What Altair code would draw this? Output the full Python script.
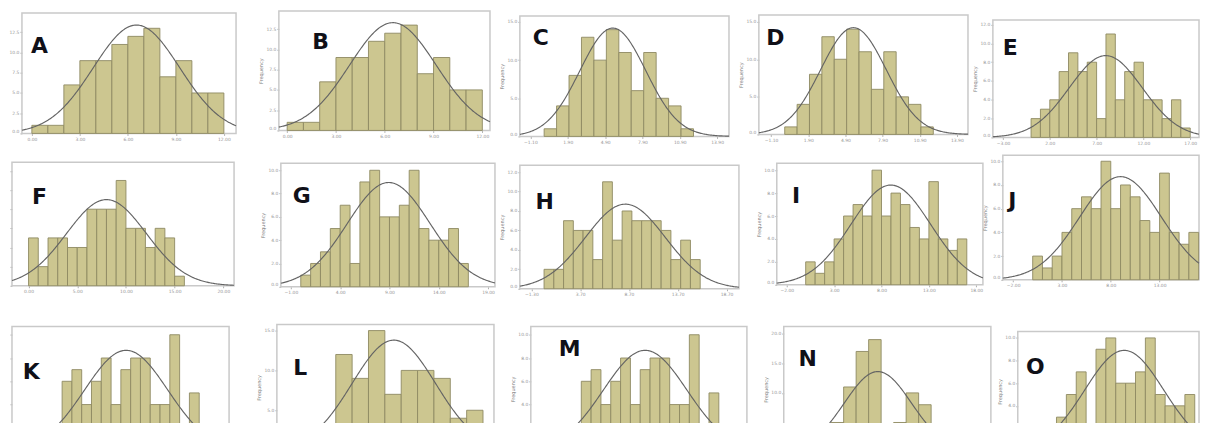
import numpy as np
import pandas as pd
import altair as alt

# ---------------- data ----------------
LETTERS = list("ABCDEFGHIJKLMNO")

COUNTS_A = [1, 1, 6, 9, 9, 11, 12, 13, 7, 9, 5, 5]
COUNTS_B = [1, 1, 6, 9, 9, 11, 12, 13, 7, 9, 5, 5]
COUNTS_C = [1, 4, 8, 13, 10, 14, 11, 6, 11, 5, 4, 1]
COUNTS_D = [1, 4, 8, 13, 10, 14, 11, 6, 11, 5, 4, 1]
COUNTS_E = [2, 3, 4, 7, 9, 7, 8, 2, 11, 4, 7, 8, 4, 4, 2, 4, 1]
COUNTS_F = [5, 2, 5, 5, 4, 4, 8, 8, 8, 11, 6, 6, 4, 6, 5, 1]
COUNTS_G = [1, 2, 3, 5, 7, 2, 9, 10, 6, 6, 7, 10, 5, 4, 4, 5, 2]
COUNTS_H = [2, 2, 7, 6, 6, 3, 11, 5, 8, 7, 7, 7, 6, 3, 5, 3]
COUNTS_I = [2, 1, 2, 4, 6, 7, 6, 10, 6, 8, 7, 5, 4, 9, 4, 3, 4]
COUNTS_J = [2, 1, 2, 4, 6, 7, 6, 10, 6, 8, 7, 5, 4, 9, 4, 3, 4]
COUNTS_K = [1, 2, 6, 7, 4, 6, 8, 4, 7, 8, 8, 4, 4, 10, 2, 5, 2, 1]
COUNTS_L = [1, 2, 12, 9, 15, 7, 10, 10, 9, 4, 5]
COUNTS_M = [1, 2, 6, 7, 4, 6, 8, 4, 7, 8, 8, 4, 4, 10, 2, 5, 2, 1]
COUNTS_N = [1, 2, 5, 11, 17, 19, 3, 5, 10, 8, 3, 1]
COUNTS_O = [1, 3, 5, 7, 2, 9, 10, 6, 6, 7, 10, 5, 4, 4, 5]

COUNTS = [COUNTS_A, COUNTS_B, COUNTS_C, COUNTS_D, COUNTS_E,
          COUNTS_F, COUNTS_G, COUNTS_H, COUNTS_I, COUNTS_J,
          COUNTS_K, COUNTS_L, COUNTS_M, COUNTS_N, COUNTS_O]

# axis ranges (in bin units) and y-axis tops
X_LO = [-0.62, -0.51, -1.95, -2.09, -4.08, -1.7, -2.02, -2.48, -3.05, -3.06,
        -3.12, -1.6, -3.14, -1.79, -2.92]
X_HI = [12.76, 12.47, 14.85, 14.8, 17.94, 21.1, 19.7, 19.97, 18.7, 17.04,
        19.05, 11.67, 18.86, 14.78, 15.43]
Y_MAX = [14.9, 14.75, 15.8, 15.9, 12.5, 12.9, 10.6, 12.7, 10.6, 10.5,
         10.7, 15.75, 10.7, 21.2, 10.56]
Y_STEP = [2.5, 2.5, 5, 5, 2, 2, 2, 2, 2, 2, 2, 5, 2, 5, 2]
X_TICKS = [[0, 3, 6, 9, 12], [0, 3, 6, 9, 12],
           [-1.1, 1.9, 4.9, 7.9, 10.9, 13.9], [-1.1, 1.9, 4.9, 7.9, 10.9, 13.9],
           [-3, 2, 7, 12, 17], [0, 5, 10, 15, 20], [-1, 4, 9, 14, 19],
           [-1.3, 3.7, 8.7, 13.7, 18.7], [-2, 3, 8, 13, 18], [-2, 3, 8, 13],
           [-2, 3, 8, 13, 18], [-1, 2, 5, 8, 11], [-2, 3, 8, 13, 18],
           [-1, 2, 5, 8, 11, 14], [-2, 2, 6, 10, 14]]

# fitted normal curve of each histogram
FIT_MEAN = [6.54, 6.5, 5.52, 5.55, 7.98, 8.0, 8.92, 8.33, 8.98, 9.0,
            8.54, 5.55, 8.5, 5.74, 7.86]
FIT_SD = [2.7, 2.66, 2.65, 2.65, 3.9, 4.1, 4.2, 4.1, 4.2, 4.2,
          4.25, 2.55, 4.25, 2.7, 4.0]
FIT_PEAK = [13.4, 13.3, 14.2, 14.2, 8.7, 9.0, 8.95, 8.7, 8.7, 8.7,
            8.66, 13.8, 8.66, 13.6, 8.9]

# ---------------- layout (page pixels) ----------------
PAGE_H = 423
CELL_W, CELL_H = 238, 146
BOX_LEFT = [20, 278, 520, 760, 995, 10, 280, 520, 778, 1005, 10, 276, 531, 785, 1020]
BOX_TOP = [11, 9, 14, 13, 18, 161, 162, 164, 162, 154, 326, 324, 326, 326, 331]
BOX_W = [215, 212, 210, 210, 207, 223, 215, 220, 207, 197, 218, 218, 217, 208, 182]
BOX_H = [121, 120, 121, 120, 118, 124, 124, 124, 122, 125, 125, 126, 125, 126, 120]
LETTER_XY = [(17.5, 33.5), (42, 31.5), (21, 22.5), (16.5, 23.5), (17.5, 28.5),
             (27.5, 35), (21, 32.5), (25, 36.5), (19.5, 32.5), (9.5, 45.5),
             (19.4, 45.5), (23.5, 43.5), (39, 23), (24, 33), (17.5, 35.5)]
HAS_TITLE = [False, True, True, True, True, False, True, True, True, True,
             False, True, True, True, True]
SHOW_YLABELS = [True, True, True, True, True, False, True, True, True, True,
                False, True, True, True, True]

FILL = "#CCC690"
EDGE = "#8E8A62"
CURVE = "#646464"
BOX = "#C9C9C9"


def panel(i):
    r, c = divmod(i, 5)
    bx = BOX_LEFT[i] - 8 - CELL_W * c
    by = BOX_TOP[i] - 8 - CELL_H * r
    bw, bh = BOX_W[i], BOX_H[i]

    counts = COUNTS[i]
    n = len(counts)
    bars_df = pd.DataFrame({"x0": np.arange(n), "x1": np.arange(n) + 1, "count": counts})
    xs = np.linspace(X_LO[i], X_HI[i], 240)
    ys = FIT_PEAK[i] * np.exp(-0.5 * ((xs - FIT_MEAN[i]) / FIT_SD[i]) ** 2)
    curve_df = pd.DataFrame({"x0": xs, "count": ys})

    xscale = alt.Scale(domain=[X_LO[i], X_HI[i]], range=[bx, bx + bw], nice=False, zero=False)
    yscale = alt.Scale(domain=[0, Y_MAX[i]], range=[by + bh, by], nice=False, zero=False)

    # only ticks whose labels fall inside the visible page
    yvals = []
    for v in np.arange(0, Y_MAX[i] + 1e-9, Y_STEP[i]):
        page_y = BOX_TOP[i] + bh * (1 - v / Y_MAX[i])
        if page_y + 4 < PAGE_H:
            yvals.append(float(v))
    bottom_visible = BOX_TOP[i] + bh + 10 < PAGE_H

    xaxis = alt.Axis(values=X_TICKS[i], format=".2f", title=None,
                     labels=bottom_visible, ticks=bottom_visible,
                     offset=(by + bh) - CELL_H)
    yaxis = alt.Axis(values=yvals, format=".1f",
                     title="Frequency" if HAS_TITLE[i] else None,
                     labels=SHOW_YLABELS[i], offset=-bx, labelFlush=True)

    X = alt.X("x0:Q", scale=xscale, axis=xaxis)
    Y = alt.Y("count:Q", scale=yscale, axis=yaxis)

    bars = alt.Chart(bars_df).mark_rect(fill=FILL, stroke=EDGE, strokeWidth=0.9).encode(
        x=X, x2="x1:Q", y=Y, y2=alt.datum(0),
    )
    curve = alt.Chart(curve_df).mark_line(color=CURVE, strokeWidth=1.15).encode(x=X, y=Y)
    frame = alt.Chart(pd.DataFrame({"x0": [X_LO[i]], "x1": [X_HI[i]], "count": [Y_MAX[i]]})).mark_rect(
        fill="transparent", stroke=BOX, strokeWidth=1.5
    ).encode(x=X, x2="x1:Q", y=Y, y2=alt.datum(0))

    lx, ly = LETTER_XY[i]
    label = alt.Chart(pd.DataFrame({"label": [LETTERS[i]]})).mark_text(
        font="DejaVu Sans", fontWeight="bold", fontSize=22, color="#101018",
        align="center", baseline="middle"
    ).encode(text="label:N", x=alt.value(bx + lx), y=alt.value(by + ly))

    return alt.layer(frame, bars, curve, label).properties(width=CELL_W, height=CELL_H)


chart = alt.concat(
    *[panel(i) for i in range(15)], columns=5, spacing=0, bounds="flush"
).properties(padding=0).configure_view(stroke="transparent").configure_axis(
    labelFontSize=4.5, labelColor="#959595", labelFont="DejaVu Sans",
    tickColor="#9a9a9a", tickSize=2, tickWidth=0.8, domain=False, grid=False,
    labelPadding=1, titleFontSize=5, titleColor="#7a7a7a", titleFont="DejaVu Sans",
    titleFontWeight="normal", titlePadding=2,
)

chart.save("out.html", embed_options={"renderer": "svg", "actions": False})
